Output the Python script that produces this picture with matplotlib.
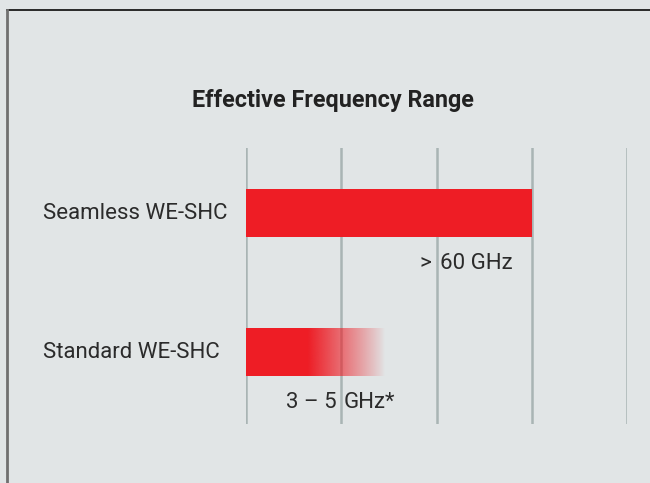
import matplotlib
matplotlib.use('Agg')
import matplotlib.pyplot as plt
from matplotlib.lines import Line2D
from matplotlib.transforms import blended_transform_factory
import numpy as np

plt.rcParams['font.family'] = ['Roboto', 'DejaVu Sans']

# chart data (x in grid units, one unit per grid column)
title = 'Effective Frequency Range'
categories = ['Seamless WE-SHC', 'Standard WE-SHC']
bar_solid_end = [3.0, 0.65]     # where the full red stops
bar_fade_end = [3.0, 1.45]      # where the bar fades out completely
grid_ticks = [0, 1, 2, 3, 4]
# value labels are split around a grid line
value_left = ['>', '3 \u2013 5']
value_right = ['60 GHz', 'GHz*']
value_split = [2, 1]

bg = '#e1e5e6'
red = '#ee1d25'
grid_col = '#a9b4b4'
text_col = '#2b2b2b'

fig = plt.figure(figsize=(6.5, 4.83), dpi=100)
fig.patch.set_facecolor(bg)

W, H = 650, 483
ax = fig.add_axes([246 / W, 1 - 424 / H, (627 - 246) / W, (424 - 148) / H])
ax.set_facecolor(bg)
for s in ax.spines.values():
    s.set_visible(False)
ax.set_xticks([])
ax.set_yticks([])

for t in grid_ticks:
    ax.axvline(t, color=grid_col, lw=1.8, zorder=1)

bar_h = 0.345
left_gap = [0.06, 0.045]
right_gap = [0.04, 0.03]
label_tr = blended_transform_factory(fig.transFigure, ax.transData)
for i, cat in enumerate(categories):
    ax.barh(i, bar_solid_end[i], height=bar_h, color=red, zorder=2, lw=0)
    if bar_fade_end[i] > bar_solid_end[i]:
        # gradient fading out to transparent
        grad = np.ones((1, 256, 4))
        grad[..., :3] = matplotlib.colors.to_rgb(red)
        grad[0, :, 3] = np.linspace(1, 0, 256) ** 0.9
        ax.imshow(grad, extent=[bar_solid_end[i], bar_fade_end[i], i + bar_h / 2, i - bar_h / 2],
                  aspect='auto', zorder=2, interpolation='bilinear')

    ax.text(43 / W, i, cat, transform=label_tr, ha='left', va='center',
            fontsize=16, color=text_col)

    y_lab = i + 0.365
    ax.text(value_split[i] - left_gap[i], y_lab, value_left[i], ha='right', va='center',
            fontsize=16, color=text_col, zorder=3)
    ax.text(value_split[i] + right_gap[i], y_lab, value_right[i], ha='left', va='center',
            fontsize=16, color=text_col, zorder=3)

ax.set_xlim(0, 4)
ax.set_ylim(1.518, -0.468)

fig.text(333 / W, 1 - 100 / H, title, ha='center', va='center', fontsize=16.8,
         fontweight='bold', color='#222222')

# outer frame (top and left edges only are visible)
fig.add_artist(Line2D([7 / W, 1], [1 - 10 / H, 1 - 10 / H], color='#1a1a1a', lw=1.3,
                      transform=fig.transFigure))
fig.add_artist(Line2D([7 / W, 7 / W], [1 - 10 / H, 0], color='#707070', lw=2,
                      transform=fig.transFigure))

fig.savefig('out.png', dpi=100, facecolor=bg)
